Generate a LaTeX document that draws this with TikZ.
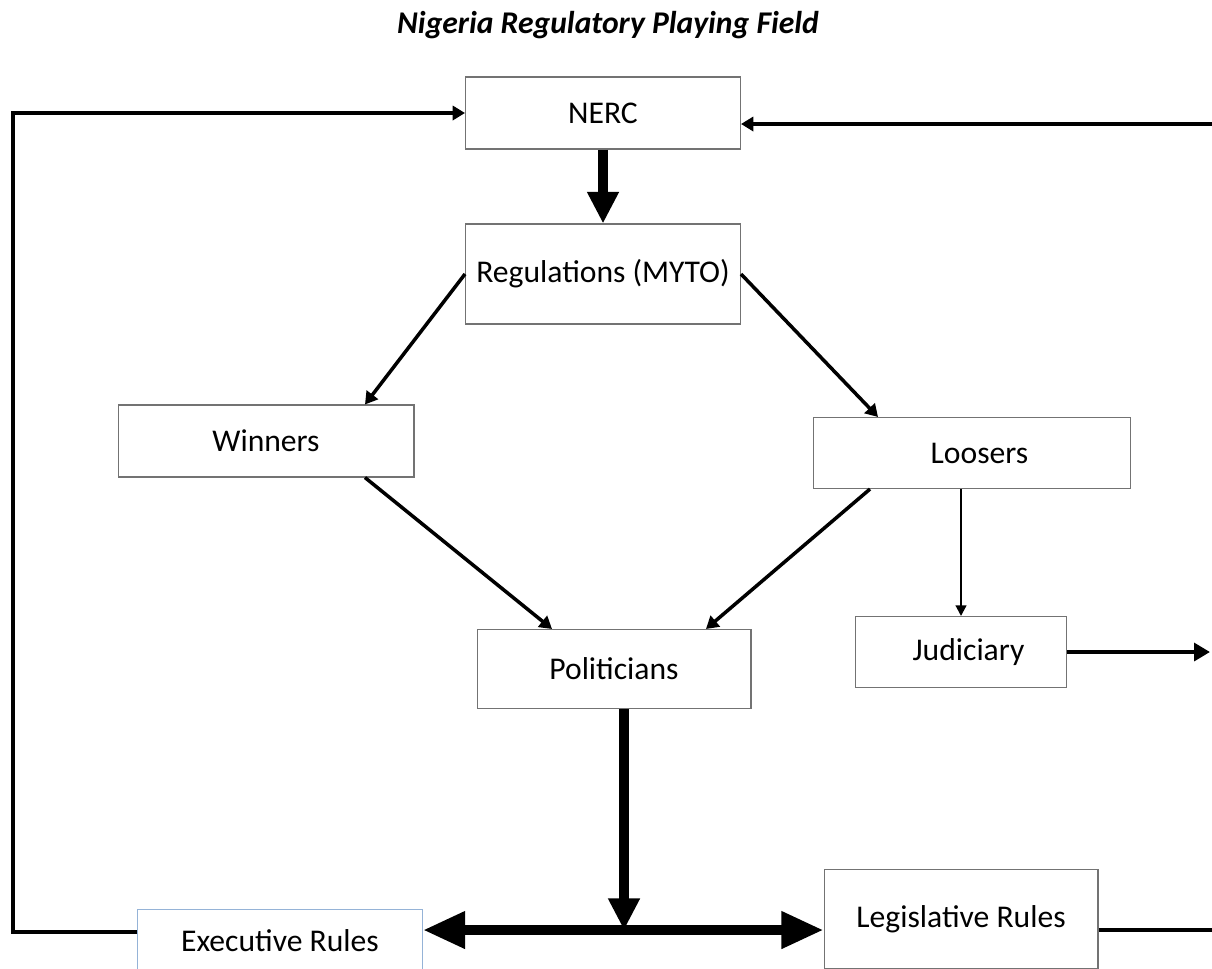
\documentclass[tikz,border=0pt]{standalone}
\usepackage{fontspec}
\setmainfont{Carlito}
\usetikzlibrary{arrows.meta}

\begin{document}
\begin{tikzpicture}[x=0.02cm, y=-0.02cm, every node/.style={font=\fontsize{18}{22}\selectfont},
  box/.style={draw=black!55, line width=0.6pt, rectangle, align=center, inner sep=0pt},
  link/.style={line width=2pt, -{Triangle[width=8pt,length=7pt]}},
  bigarrow/.style={line width=5.6pt, -{Triangle[width=17pt,length=18pt]}}]
\clip (0,0) rectangle (1212,968);

% Title
\node[font=\fontsize{18}{22}\selectfont\bfseries\itshape] (title) at (608,25) {Nigeria Regulatory Playing Field};

% Boxes
\node[box, minimum width=5.5cm, minimum height=1.44cm] (nerc) at (603,113) {NERC};
\node[box, minimum width=5.5cm, minimum height=2cm] (reg) at (603,274) {Regulations (MYTO)};
\node[box, minimum width=5.92cm, minimum height=1.44cm] (win) at (266,441) {Winners};
\node[box, minimum width=6.34cm, minimum height=1.42cm, text width=6.34cm, align=center] (loos) at (972,453) {\hspace*{0.3cm}Loosers};
\node[box, minimum width=5.48cm, minimum height=1.58cm] (pol) at (614,669) {Politicians};
\node[box, minimum width=4.22cm, minimum height=1.42cm, text width=4.22cm, align=center] (jud) at (961,652) {\hspace*{0.3cm}Judiciary};
\node[box, draw={rgb,255:red,149;green,179;blue,215}, minimum width=5.7cm, minimum height=1.28cm] (exec) at (280,941) {Executive Rules};
\node[box, minimum width=5.48cm, minimum height=2cm] (leg) at (961,919) {Legislative Rules};

% Free ends
\coordinate (loop) at (13,932);
\coordinate (rin) at (1212,124);
\coordinate (jout) at (1210,652);
\coordinate (lout) at (1212,930);
\coordinate (junc) at (624,930);

% Arrows
\draw[bigarrow] (nerc) -- (reg);
\draw[link] (reg.west) -- ([xshift=1.98cm]win.north);
\draw[link] (reg.east) -- ([xshift=-1.88cm]loos.north);
\draw[link] ([xshift=1.98cm]win.south) -- ([xshift=-1.24cm]pol.north);
\draw[link] ([xshift=-2.04cm]loos.south) -- ([xshift=1.84cm]pol.north);
\draw[line width=1.2pt, -{Triangle[width=6pt,length=6pt]}] (loos.south -| jud.north) -- (jud.north);
\draw[line width=2.5pt, -{Triangle[width=10pt,length=9pt]}] (jud.east) -- (jout);
\draw[link] (exec.west |- loop) -- (loop) |- (nerc.west);
\draw[link] (rin) -- (nerc.east |- rin);
\draw[bigarrow] (pol.south -| junc) -- (junc);
\draw[line width=5.6pt, {Triangle[width=20pt,length=24pt]}-{Triangle[width=20pt,length=24pt]}] (exec.east |- junc) -- (leg.west |- junc);
\draw[line width=2.5pt] (leg.east |- lout) -- (lout);
\end{tikzpicture}
\end{document}
